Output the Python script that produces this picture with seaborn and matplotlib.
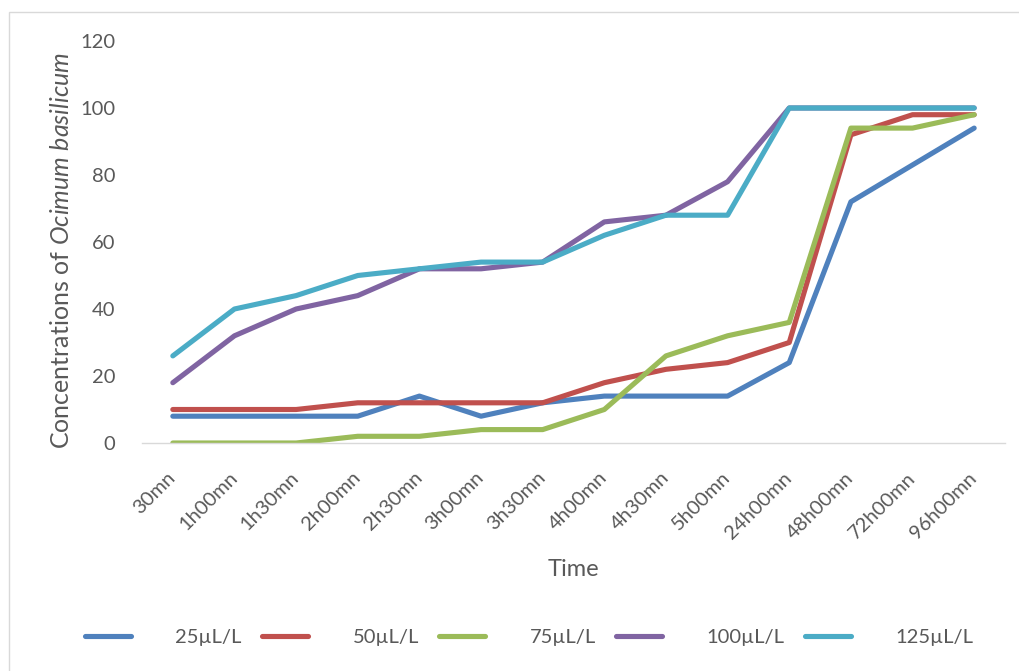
import matplotlib
matplotlib.use("Agg")
import matplotlib.pyplot as plt
import matplotlib.transforms as mtransforms
from matplotlib.patches import Rectangle
import numpy as np
import pandas as pd
import seaborn as sns

# ---- data ----
times = ["30mn", "1h00mn", "1h30mn", "2h00mn", "2h30mn", "3h00mn", "3h30mn",
         "4h00mn", "4h30mn", "5h00mn", "24h00mn", "48h00mn", "72h00mn", "96h00mn"]
c25 = [8, 8, 8, 8, 14, 8, 12, 14, 14, 14, 24, 72, 83, 94]
c50 = [10, 10, 10, 12, 12, 12, 12, 18, 22, 24, 30, 92, 98, 98]
c75 = [0, 0, 0, 2, 2, 4, 4, 10, 26, 32, 36, 94, 94, 98]
c100 = [18, 32, 40, 44, 52, 52, 54, 66, 68, 78, 100, 100, 100, 100]
c125 = [26, 40, 44, 50, 52, 54, 54, 62, 68, 68, 100, 100, 100, 100]
series_names = ["25µL/L", "50µL/L", "75µL/L", "100µL/L", "125µL/L"]
yticks = [0, 20, 40, 60, 80, 100, 120]

colors = ["#4F81BD", "#C0504D", "#9BBB59", "#8064A2", "#4BACC6"]

rows = []
for name, vals in zip(series_names, [c25, c50, c75, c100, c125]):
    for t, v in zip(times, vals):
        rows.append({"Time": t, "value": v, "series": name})
df = pd.DataFrame(rows)
df["Time"] = pd.Categorical(df["Time"], categories=times, ordered=True)
df["pos"] = df["Time"].cat.codes

sns.set_theme(style="white")
plt.rcParams["font.family"] = ["Lato", "DejaVu Sans"]
plt.rcParams["mathtext.fontset"] = "custom"
plt.rcParams["mathtext.rm"] = "Lato"
plt.rcParams["mathtext.it"] = "Lato:italic"

gray = "#595959"
fig = plt.figure(figsize=(10.19, 6.71), dpi=100)
ax = fig.add_axes([142 / 1019, 1 - 443 / 671, 863 / 1019, 402 / 671])

sns.lineplot(data=df, x="pos", y="value", hue="series", hue_order=series_names,
             palette=colors, sort=False, linewidth=3.7, ax=ax, legend=True)
for ln in ax.get_lines():
    ln.set_solid_capstyle("round")
    ln.set_solid_joinstyle("round")

ax.set_xlim(-0.5, len(times) - 0.5)
ax.set_ylim(0, 120)
ax.set_yticks(yticks)
ax.set_yticklabels([str(v) for v in yticks], fontsize=14.5, color=gray)
ax.set_xticks(range(len(times)))
ax.set_xticklabels(times, fontsize=14.5, color=gray, rotation=45,
                   ha="right", va="center", rotation_mode="anchor")
offset = mtransforms.ScaledTranslation(10 / 100, 0, fig.dpi_scale_trans)
for lab in ax.get_xticklabels():
    lab.set_transform(lab.get_transform() + offset)
ax.tick_params(axis="x", length=0, pad=23)
ax.tick_params(axis="y", length=0, pad=19)

for s in ["left", "top", "right"]:
    ax.spines[s].set_visible(False)
ax.spines["bottom"].set_color("#d9d9d9")
ax.spines["bottom"].set_linewidth(1.0)
ax.grid(False)

ax.set_xlabel("Time", fontsize=17, color=gray, va="center")
ax.xaxis.set_label_coords(0.5, (443 - 570) / 402)
ax.set_ylabel(r"Concentrations of $\mathit{Ocimum\ basilicum}$", fontsize=18,
              color=gray, va="center")
ax.yaxis.set_label_coords((62 - 142) / 863, (443 - 250) / 402)

handles, labels = ax.get_legend_handles_labels()
ax.get_legend().remove()
leg = fig.legend(handles, labels, loc="center", bbox_to_anchor=(529 / 1019, 1 - 637 / 671),
                 ncol=5, frameon=False, fontsize=14.5, handlelength=2.3,
                 handletextpad=2.2, columnspacing=1.0)
for t in leg.get_texts():
    t.set_color(gray)
for h in leg.get_lines():
    h.set_linewidth(3.7)
    h.set_solid_capstyle("round")

fig.patches.append(Rectangle((9 / 1019, -0.1), 1.2, 1.1 - 12 / 671,
                             transform=fig.transFigure, fill=False,
                             edgecolor="#d9d9d9", linewidth=1.0))

fig.savefig("out.png", dpi=100)
